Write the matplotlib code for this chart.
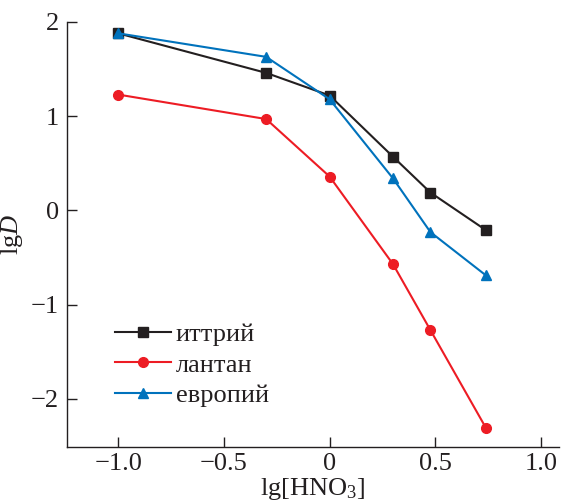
import matplotlib
matplotlib.use("Agg")
import matplotlib.pyplot as plt

x = [-1.0, -0.3, 0.0, 0.3, 0.477, 0.74]
yttrium = [1.88, 1.46, 1.22, 0.57, 0.19, -0.21]
lanthanum = [1.23, 0.97, 0.36, -0.57, -1.27, -2.31]
europium = [1.88, 1.63, 1.18, 0.34, -0.23, -0.69]
labels = ["иттрий", "лантан", "европий"]
xticks = [-1.0, -0.5, 0.0, 0.5, 1.0]
xticklabels = ["\u22121.0", "\u22120.5", "0", "0.5", "1.0"]
yticks = [-2, -1, 0, 1, 2]
yticklabels = ["\u22122", "\u22121", "0", "1", "2"]

plt.rcParams['font.family'] = ['Liberation Serif', 'DejaVu Serif']
plt.rcParams['mathtext.fontset'] = 'custom'
plt.rcParams['mathtext.rm'] = 'Liberation Serif'
plt.rcParams['mathtext.it'] = 'Liberation Serif:italic'

fig = plt.figure(figsize=(5.61, 5.03), dpi=100)
ax = fig.add_axes([67/561, 56/503, 492/561, 425/503])

ax.plot(x, yttrium, color='#231f20', marker='s', markersize=7, lw=1.5, label=labels[0])
ax.plot(x, lanthanum, color='#ed1c24', marker='o', markersize=7, lw=1.5, label=labels[1])
ax.plot(x, europium, color='#0072bc', marker='^', markersize=7.5, lw=1.5, label=labels[2])

ax.set_xlim(-1.242, 1.085)
ax.set_ylim(-2.51, 2.0)
ax.set_xticks(xticks)
ax.set_xticklabels(xticklabels)
ax.set_yticks(yticks)
ax.set_yticklabels(yticklabels)
ax.spines['top'].set_visible(False)
ax.spines['right'].set_visible(False)
for s in ['left', 'bottom']:
    ax.spines[s].set_color('#231f20')
    ax.spines[s].set_linewidth(1.0)
ax.tick_params(direction='in', length=7, width=1.0, color='#231f20', labelsize=19, labelcolor='#231f20')
ax.tick_params(axis='x', pad=4)
ax.tick_params(axis='y', pad=6)

ax.set_xlabel(r"lg[HNO$_3$]", fontsize=19, color='#231f20', labelpad=1)
ax.set_ylabel(r"lg$\it{D}$", fontsize=19, color='#231f20', labelpad=4)

leg = ax.legend(loc='lower left', bbox_to_anchor=(0.098, 0.093), frameon=False, fontsize=19,
                handlelength=2.1, handletextpad=0.2, labelspacing=0.28, borderaxespad=0, borderpad=0)
for t in leg.get_texts():
    t.set_color('#231f20')

fig.savefig("out.png", dpi=100)
